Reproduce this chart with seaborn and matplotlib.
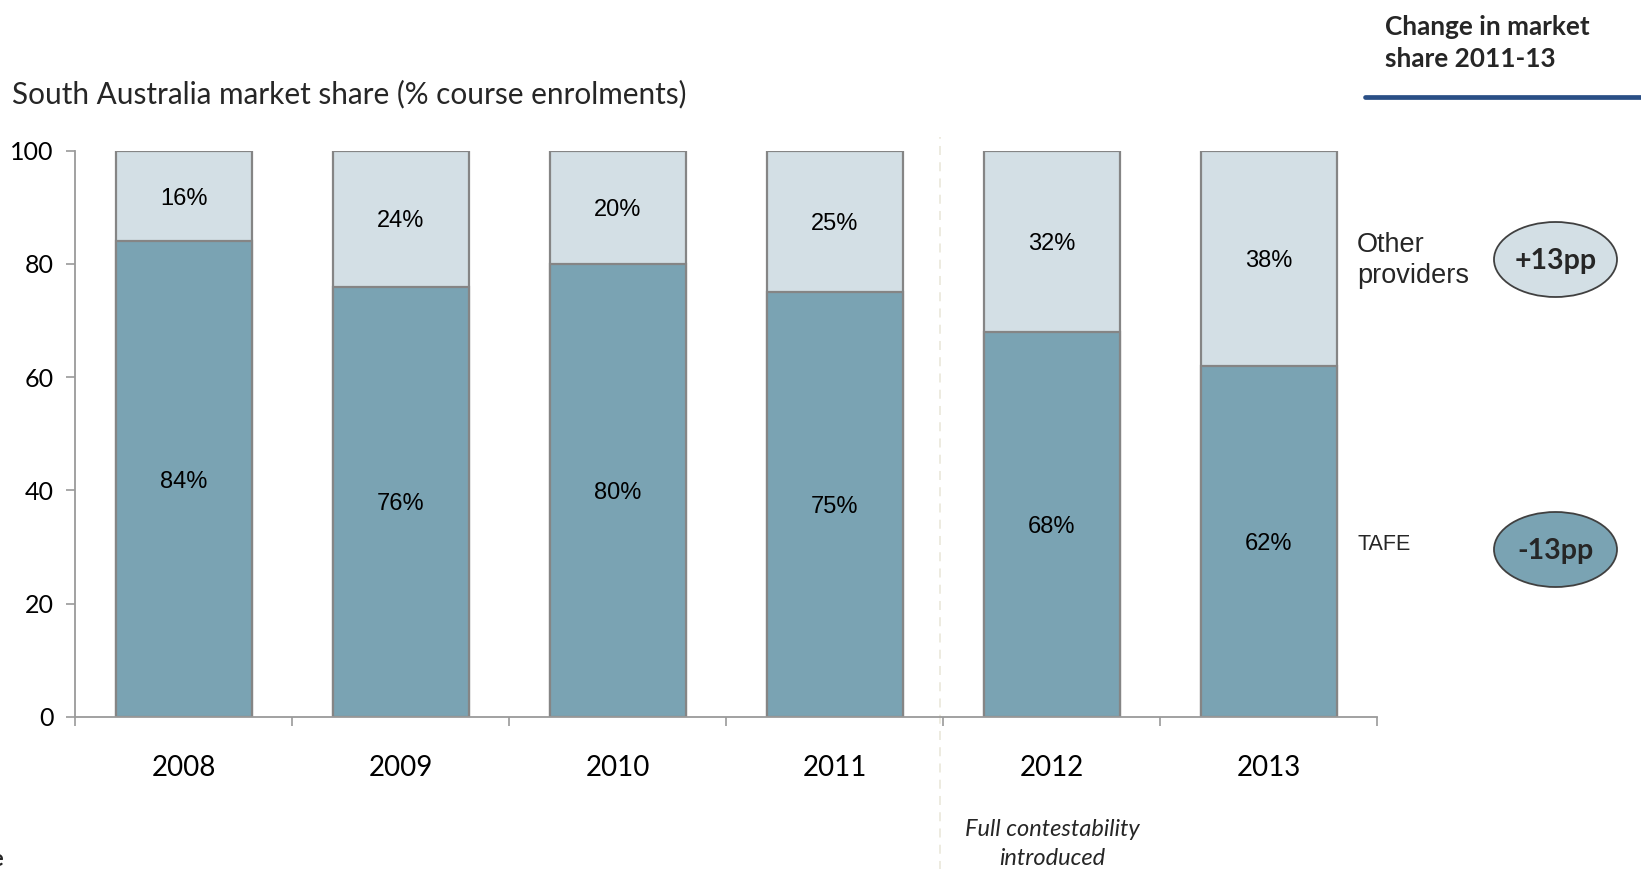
import matplotlib
matplotlib.use("Agg")
import matplotlib.pyplot as plt
from matplotlib.patches import Ellipse
from matplotlib.lines import Line2D
import seaborn as sns
import pandas as pd

# Market share data (% of course enrolments)
years = ["2008", "2009", "2010", "2011", "2012", "2013"]
tafe_share = [84, 76, 80, 75, 68, 62]
other_share = [16, 24, 20, 25, 32, 38]
change_labels = ["+13pp", "-13pp"]

W, H = 1641, 869
TAFE_COLOR = "#7AA3B3"
OTHER_COLOR = "#D3DFE5"
EDGE = "#858585"
SANS = "Lato"
ARIAL = "Liberation Sans"

sns.set_theme(style="white")
plt.rcParams["font.family"] = [SANS, "DejaVu Sans"]

fig = plt.figure(figsize=(W / 100, H / 100), dpi=100)


def fx(x):
    return x / W


def fy(y):
    return 1 - y / H


ax = fig.add_axes([fx(75.4), fy(717), fx(1377.3) - fx(75.4), fy(150.7) - fy(717)])

df = pd.DataFrame({
    "year": years,
    "tafe": tafe_share,
    "other": other_share,
})
df["total"] = df["tafe"] + df["other"]

# Stacked bars: full height in the light colour, TAFE share on top of it
sns.barplot(data=df, x="year", y="total", color=OTHER_COLOR, saturation=1,
            edgecolor=EDGE, linewidth=1.6, width=0.625, ax=ax)
sns.barplot(data=df, x="year", y="tafe", color=TAFE_COLOR, saturation=1,
            edgecolor=EDGE, linewidth=1.6, width=0.625, ax=ax)

for i, (t, o) in enumerate(zip(tafe_share, other_share)):
    ax.text(i, t / 2, f"{t}%", ha="center", va="center_baseline", fontsize=17,
            family=ARIAL, color="black")
    ax.text(i, t + o / 2, f"{o}%", ha="center", va="center_baseline", fontsize=17,
            family=ARIAL, color="black")

ax.set_xlim(-0.5, len(years) - 0.5)
ax.set_ylim(0, 100)
ax.set_yticks([0, 20, 40, 60, 80, 100])
ax.set_yticklabels(["0", "20", "40", "60", "80", "100"], fontsize=18)
ax.set_xticks(range(len(years)))
ax.set_xticklabels(years, fontsize=20)
ax.set_xticks([i - 0.5 for i in range(len(years) + 1)], minor=True)
ax.tick_params(axis="x", which="major", length=0, pad=27, colors="black")
ax.tick_params(axis="x", which="minor", length=6.5, width=1.2, color="#9A9A9A",
               direction="out", bottom=True)
ax.tick_params(axis="y", length=6.5, width=1.2, color="#9A9A9A", pad=9,
               direction="out", left=True, labelcolor="black")
ax.set_xlabel("")
ax.set_ylabel("")
for side in ["top", "right"]:
    ax.spines[side].set_visible(False)
for side in ["left", "bottom"]:
    ax.spines[side].set_color("#9A9A9A")
    ax.spines[side].set_linewidth(1.3)

# Dashed divider before full contestability
ax.plot([3.485, 3.485], [-27, 102.4], color="#ECE9DD", lw=1.3,
        ls=(0, (5, 4)), clip_on=False, zorder=0)

# Chart heading
fig.text(fx(11.5), fy(103), "South Australia market share (% course enrolments)",
         fontsize=21.4, va="baseline", ha="left")

# Right-hand panel
fig.text(fx(1385), fy(35), "Change in market", fontsize=18.8, weight="bold",
         va="baseline", ha="left")
fig.text(fx(1385), fy(67), "share 2011-13", fontsize=18.8, weight="bold",
         va="baseline", ha="left")
fig.add_artist(Line2D([fx(1365), 1.0], [fy(97), fy(97)], color="#2A4F86",
                      lw=3.4, transform=fig.transFigure))

fig.text(fx(1357), fy(252), "Other", fontsize=19.5, family=ARIAL,
         va="baseline", ha="left")
fig.text(fx(1357), fy(283), "providers", fontsize=19.5, family=ARIAL,
         va="baseline", ha="left")
fig.text(fx(1357), fy(550), "TAFE", fontsize=15.5, family=ARIAL,
         va="baseline", ha="left")

for (cy, fill), label in zip([(259.5, OTHER_COLOR), (549.5, TAFE_COLOR)], change_labels):
    fig.add_artist(Ellipse((fx(1555.5), fy(cy)), 123 / W, 75 / H,
                           facecolor=fill, edgecolor="#404040", lw=1.3,
                           transform=fig.transFigure))
    fig.text(fx(1555.5), fy(cy + 2), label, fontsize=20.5, weight="bold",
             ha="center", va="center")

# Note under 2012
fig.text(fx(1052.5), fy(836), "Full contestability", fontsize=17, style="italic",
         ha="center", va="baseline")
fig.text(fx(1052.5), fy(865), "introduced", fontsize=17, style="italic",
         ha="center", va="baseline")

# Clipped footer text at the left edge
fig.text(fx(4), fy(866), "Source", fontsize=16, weight="bold",
         ha="right", va="baseline")

fig.savefig("out.png", dpi=100)
